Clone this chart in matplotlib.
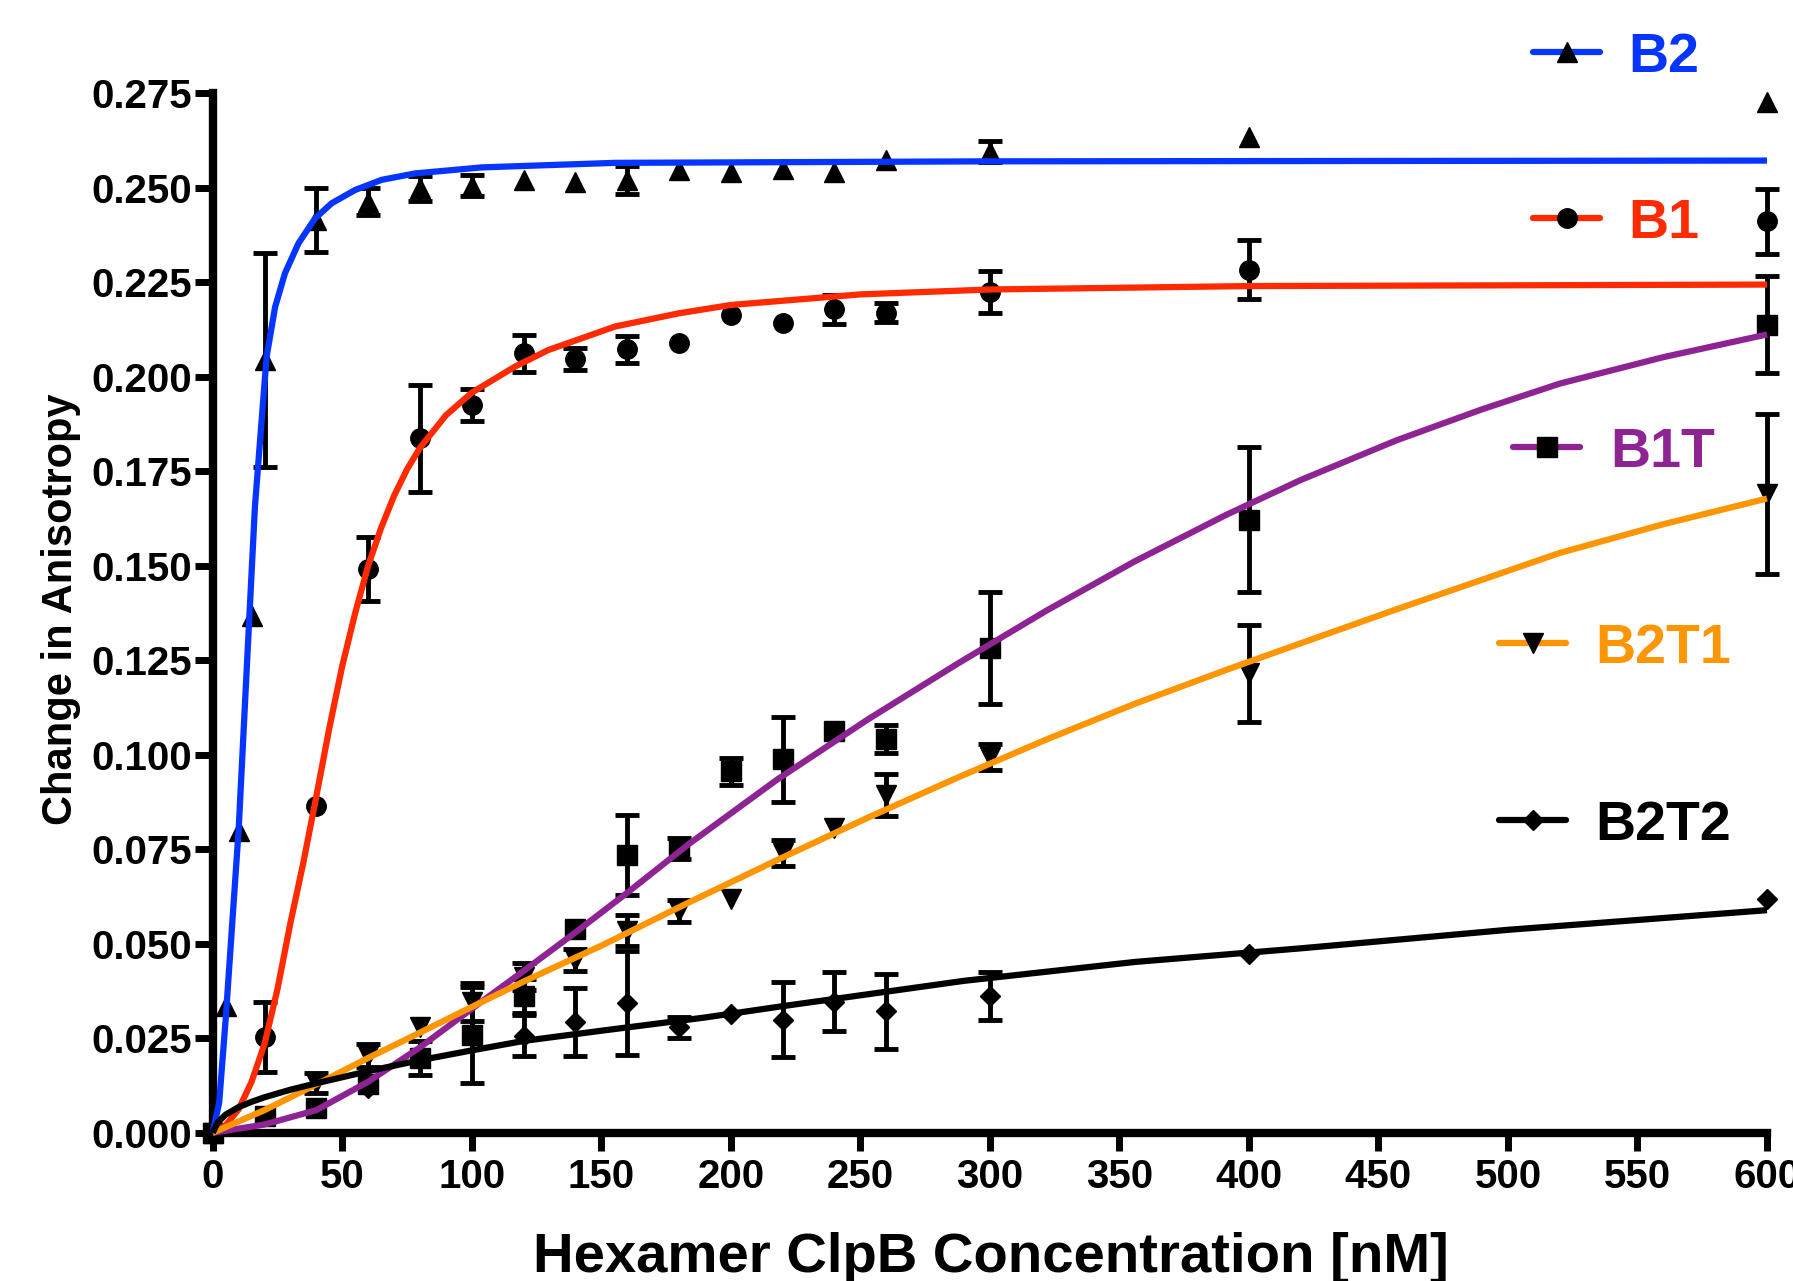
import numpy as np
import matplotlib
matplotlib.use('Agg')
from matplotlib import pyplot as plt
from matplotlib.lines import Line2D

plt.rcParams['font.family'] = ['Liberation Sans', 'DejaVu Sans']
plt.rcParams['font.weight'] = 'bold'

# measured points: x = concentration [nM], y = change in anisotropy, err = half width of bar (0 = none)
b2_x = [0, 5, 10, 15, 20, 40, 60, 80, 100, 120, 140, 160, 180, 200, 220, 240, 260, 300, 400, 600]
b2_y = [0, 0.0336, 0.0798, 0.1366, 0.2044, 0.2415, 0.2463, 0.2499, 0.2505, 0.2521, 0.2516, 0.2521,
        0.2547, 0.2541, 0.2550, 0.2541, 0.2574, 0.2595, 0.2634, 0.2726]
b2_err = [0, 0, 0, 0, 0.0283, 0.0084, 0.0036, 0.0033, 0.0028, 0, 0, 0.0037, 0, 0, 0, 0, 0, 0.0028, 0, 0]

b1_x = [0, 20, 40, 60, 80, 100, 120, 140, 160, 180, 200, 220, 240, 260, 300, 400, 600]
b1_y = [0, 0.0253, 0.0864, 0.1492, 0.1837, 0.1925, 0.2062, 0.2046, 0.2073, 0.2090, 0.2163, 0.2142,
        0.2179, 0.2170, 0.2224, 0.2283, 0.2411]
b1_err = [0, 0.0093, 0, 0.0084, 0.0141, 0.0042, 0.0049, 0.0029, 0.0036, 0, 0, 0, 0.0038, 0.0025,
          0.0055, 0.0078, 0.0086]

b1t_x = [0, 20, 40, 60, 80, 100, 120, 140, 160, 180, 200, 220, 240, 260, 300, 400, 600]
b1t_y = [0, 0.0045, 0.0066, 0.0128, 0.0198, 0.0259, 0.0363, 0.0540, 0.0734, 0.0752, 0.0956, 0.0988,
         0.1062, 0.1043, 0.1283, 0.1622, 0.2138]
b1t_err = [0, 0, 0, 0, 0.0045, 0.0127, 0.0045, 0, 0.0106, 0.0027, 0.0035, 0.0112, 0, 0.0037,
           0.0149, 0.0191, 0.0128]

b2t1_x = [0, 40, 60, 80, 100, 120, 140, 160, 180, 200, 220, 240, 260, 300, 400, 600]
b2t1_y = [0, 0.0132, 0.0204, 0.0281, 0.0347, 0.0413, 0.0457, 0.0535, 0.0586, 0.0618, 0.0740, 0.0807,
          0.0893, 0.0994, 0.1216, 0.1689]
b2t1_err = [0, 0.0027, 0.0030, 0, 0.0050, 0.0036, 0.0028, 0.0040, 0.0029, 0, 0.0035, 0, 0.0056,
            0.0035, 0.0128, 0.0212]

b2t2_x = [0, 60, 120, 140, 160, 180, 200, 220, 240, 260, 300, 400, 600]
b2t2_y = [0, 0.0118, 0.0257, 0.0294, 0.0343, 0.0279, 0.0315, 0.0299, 0.0347, 0.0321, 0.0362, 0.0474, 0.0619]
b2t2_err = [0, 0, 0.0055, 0.0090, 0.0138, 0.0028, 0, 0.0099, 0.0078, 0.0098, 0.0064, 0, 0]

# fitted curves
b2_fit_x = [0, 2.5, 5, 7.5, 10, 13.7, 16.3, 18.3, 20.8, 24.1, 27.9, 33.1, 39.5, 45.9, 54.9, 65.2,
            78.1, 103.9, 155.3, 300, 600]
b2_fit_y = [0, 0.008, 0.030, 0.055, 0.080, 0.1304, 0.1656, 0.1833, 0.2053, 0.2185, 0.2274, 0.2353,
            0.2419, 0.2459, 0.2494, 0.2521, 0.2538, 0.2554, 0.2566, 0.2570, 0.2572]

b1_fit_x = [0, 5, 10, 15, 20, 25, 30, 35, 40, 45, 50, 55, 60, 65, 70, 75, 80, 90, 100, 116.7,
            129.6, 142.5, 155.3, 180, 200, 250, 300, 400, 600]
b1_fit_y = [0, 0.002, 0.0062, 0.0135, 0.0235, 0.038, 0.0555, 0.0715, 0.089, 0.107, 0.1235, 0.1375,
            0.150, 0.160, 0.1685, 0.1755, 0.1812, 0.1898, 0.1958, 0.2027, 0.2071, 0.2102, 0.2133,
            0.2168, 0.2190, 0.2218, 0.2231, 0.2240, 0.2244]

b1t_fit_x = [0, 20, 40, 60, 80, 100, 120, 140, 160, 184, 218, 253, 288, 322, 356, 391, 420, 457,
             490, 520, 560, 600]
b1t_fit_y = [0, 0.0022, 0.0060, 0.0135, 0.0226, 0.0328, 0.0428, 0.0530, 0.0635, 0.0765, 0.0935,
             0.1094, 0.1243, 0.1382, 0.1512, 0.1634, 0.1727, 0.1832, 0.1914, 0.1982, 0.2052, 0.2112]

b2t1_fit_x = [0, 20, 40, 60, 80, 100, 120, 150, 184, 218, 253, 288, 322, 356, 391, 420, 457, 520,
              560, 600]
b2t1_fit_y = [0, 0.0060, 0.0128, 0.0198, 0.0265, 0.0333, 0.0400, 0.0495, 0.0610, 0.0722, 0.0834,
              0.0941, 0.1041, 0.1135, 0.1224, 0.1295, 0.1385, 0.1534, 0.1610, 0.1678]

b2t2_fit_x = [0, 2, 5, 10, 15, 20, 30, 40, 60, 80, 100, 120, 150, 190, 220, 290, 356, 420, 500, 600]
b2t2_fit_y = [0, 0.0028, 0.0048, 0.0068, 0.0082, 0.0094, 0.0114, 0.0131, 0.0163, 0.0192, 0.0218,
              0.0243, 0.0270, 0.0305, 0.0335, 0.0402, 0.0452, 0.0488, 0.0537, 0.0589]

x_ticks = [0, 50, 100, 150, 200, 250, 300, 350, 400, 450, 500, 550, 600]
y_ticks = [0.000, 0.025, 0.050, 0.075, 0.100, 0.125, 0.150, 0.175, 0.200, 0.225, 0.250, 0.275]

W, H = 1793, 1281

series = [
    ('B2', b2_x, b2_y, b2_err, b2_fit_x, b2_fit_y, '#0535FF', '^', 14),
    ('B1', b1_x, b1_y, b1_err, b1_fit_x, b1_fit_y, '#FF2A00', 'o', 14),
    ('B1T', b1t_x, b1t_y, b1t_err, b1t_fit_x, b1t_fit_y, '#8E2393', 's', 14),
    ('B2T1', b2t1_x, b2t1_y, b2t1_err, b2t1_fit_x, b2t1_fit_y, '#FF9500', 'v', 14),
    ('B2T2', b2t2_x, b2t2_y, b2t2_err, b2t2_fit_x, b2t2_fit_y, '#000000', 'D', 10),
]

# legend placement in pixels: line start, line end, line y, text x
legend_pos = {
    'B2': (1533, 1600, 52, 1628),
    'B1': (1533, 1600, 218, 1628),
    'B1T': (1513, 1580, 447, 1610),
    'B2T1': (1499, 1566, 643, 1595),
    'B2T2': (1499, 1566, 820, 1595),
}


def fx(px):
    return px / W


def fy(py):
    return 1 - py / H


fig = plt.figure(figsize=(W / 100, H / 100), dpi=100)
ax = fig.add_axes([fx(212.7), fy(1132.8), fx(1767) - fx(212.7), fy(93.3) - fy(1132.8)])

for name, xs, ys, errs, fit_x, fit_y, color, marker, ms in series:
    xs = np.array(xs, dtype=float)
    ys = np.array(ys, dtype=float)
    errs = np.array(errs, dtype=float)
    has_err = errs > 0
    ax.errorbar(xs[has_err], ys[has_err], yerr=errs[has_err], fmt='none', ecolor='black',
                elinewidth=3.5, capsize=8.5, capthick=3.5, zorder=2, clip_on=False)
    ax.plot(xs, ys, linestyle='none', marker=marker, markersize=ms, color='black',
            zorder=3, clip_on=False)
    ax.plot(fit_x, fit_y, color=color, linewidth=4.5, zorder=4, clip_on=False,
            solid_capstyle='butt', solid_joinstyle='round')

    # hand placed legend like the original
    x1, x2, ly, tx = legend_pos[name]
    fig.add_artist(Line2D([fx(x1), fx(x2)], [fy(ly), fy(ly)], color=color, linewidth=4.5,
                          transform=fig.transFigure, solid_capstyle='round'))
    fig.add_artist(Line2D([fx((x1 + x2) / 2)], [fy(ly)], color='black', marker=marker,
                          markersize=ms, linestyle='none', transform=fig.transFigure))
    fig.text(fx(tx), fy(ly + 20), name, color=color, fontsize=40, fontweight='bold',
             ha='left', va='baseline')

ax.set_xlim(0, 600)
ax.set_ylim(0, 0.275)
ax.set_xticks(x_ticks)
ax.set_yticks(y_ticks)
ax.set_yticklabels([f'{v:.3f}' for v in y_ticks])
ax.tick_params(direction='out', length=13, width=5, labelsize=29)
ax.tick_params(axis='y', pad=2)
ax.tick_params(axis='x', pad=5)
for lab in ax.get_xticklabels() + ax.get_yticklabels():
    lab.set_fontweight('bold')

for side in ['top', 'right']:
    ax.spines[side].set_visible(False)
for side in ['left', 'bottom']:
    ax.spines[side].set_linewidth(6)
ax.patch.set_visible(False)

fig.text(fx(991), fy(1271.7), 'Hexamer ClpB Concentration [nM]', fontsize=40.5,
         fontweight='bold', ha='center', va='baseline')
fig.text(fx(61), fy(609), 'Change in Anisotropy', fontsize=30, fontweight='bold',
         rotation=90, ha='center', va='center')

fig.savefig('out.png', dpi=100)
